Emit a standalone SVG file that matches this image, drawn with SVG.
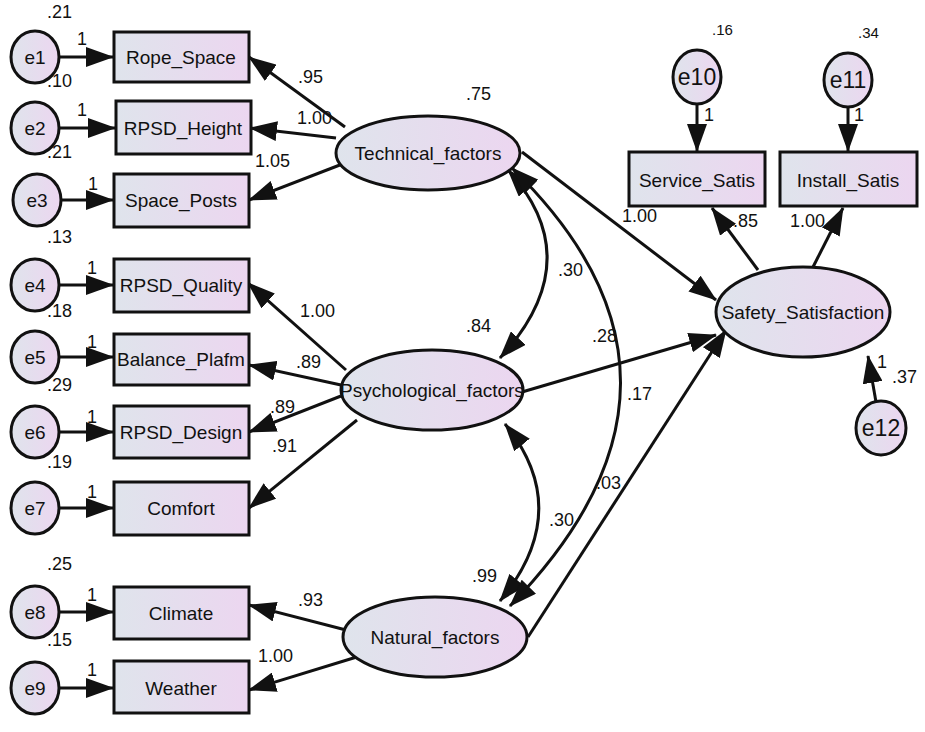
<svg xmlns="http://www.w3.org/2000/svg" width="925" height="732" viewBox="0 0 925 732">
<style>
text{font-family:"Liberation Sans",Arial,sans-serif;fill:#111}
.n{font-size:19px;text-anchor:middle;dominant-baseline:central}
.l{font-size:18px}
.b{fill:url(#g);stroke:#111;stroke-width:3}
.c{stroke:#111;stroke-width:3;fill:none}
</style>
<defs>
<linearGradient id="g" x1="0" x2="1" y1="0" y2="0"><stop offset="0" stop-color="#dfe4ec"/><stop offset="1" stop-color="#ecd6f0"/></linearGradient>
<marker id="a" viewBox="0 0 28 20" refX="27" refY="10" markerWidth="28" markerHeight="20" markerUnits="userSpaceOnUse" orient="auto-start-reverse"><path d="M0,0L28,10L0,20z" fill="#111"/></marker>
</defs>
<rect width="925" height="732" fill="#fff"/>
<g id="connectors" class="c">
<path d="M59,57H113" marker-end="url(#a)"/>
<path d="M59,128H115" marker-end="url(#a)"/>
<path d="M61,200H113" marker-end="url(#a)"/>
<path d="M59,285H113" marker-end="url(#a)"/>
<path d="M59,357H113" marker-end="url(#a)"/>
<path d="M59,432H113" marker-end="url(#a)"/>
<path d="M59,508H113" marker-end="url(#a)"/>
<path d="M59,612H113" marker-end="url(#a)"/>
<path d="M59,688H113" marker-end="url(#a)"/>
<path d="M345,127L249,57" marker-end="url(#a)"/>
<path d="M336,138L250,128" marker-end="url(#a)"/>
<path d="M345,163L249,200" marker-end="url(#a)"/>
<path d="M346,370L248,283" marker-end="url(#a)"/>
<path d="M341,385L249,365" marker-end="url(#a)"/>
<path d="M341,396L249,432" marker-end="url(#a)"/>
<path d="M357,420L249,508" marker-end="url(#a)"/>
<path d="M346,630L249,605" marker-end="url(#a)"/>
<path d="M360,656L249,690" marker-end="url(#a)"/>
<path d="M522,152L716,300" marker-end="url(#a)"/>
<path d="M522,392L716,335" marker-end="url(#a)"/>
<path d="M528,637L726,330" marker-end="url(#a)"/>
<path d="M758,270L712,208" marker-end="url(#a)"/>
<path d="M813,267L843,208" marker-end="url(#a)"/>
<path d="M876,402L868,356" marker-end="url(#a)"/>
<path d="M697,104V151" marker-end="url(#a)"/>
<path d="M848,107V151" marker-end="url(#a)"/>
<path d="M508,170Q590,260 500,358" marker-start="url(#a)" marker-end="url(#a)"/>
<path d="M505,424Q575,510 500,601" marker-start="url(#a)" marker-end="url(#a)"/>
<path d="M512,168Q730,380 510,606" marker-start="url(#a)" marker-end="url(#a)"/>
</g>
<g id="e1"><ellipse class="b" cx="35" cy="57" rx="24" ry="26"/><text class="n" x="35" y="57">e1</text></g>
<g id="e2"><ellipse class="b" cx="35" cy="128" rx="24" ry="26"/><text class="n" x="35" y="128">e2</text></g>
<g id="e3"><ellipse class="b" cx="37" cy="200" rx="24" ry="26"/><text class="n" x="37" y="200">e3</text></g>
<g id="e4"><ellipse class="b" cx="35" cy="285" rx="24" ry="26"/><text class="n" x="35" y="285">e4</text></g>
<g id="e5"><ellipse class="b" cx="35" cy="357" rx="24" ry="26"/><text class="n" x="35" y="357">e5</text></g>
<g id="e6"><ellipse class="b" cx="35" cy="432" rx="24" ry="26"/><text class="n" x="35" y="432">e6</text></g>
<g id="e7"><ellipse class="b" cx="35" cy="508" rx="24" ry="26"/><text class="n" x="35" y="508">e7</text></g>
<g id="e8"><ellipse class="b" cx="35" cy="612" rx="24" ry="26"/><text class="n" x="35" y="612">e8</text></g>
<g id="e9"><ellipse class="b" cx="35" cy="688" rx="24" ry="26"/><text class="n" x="35" y="688">e9</text></g>
<g id="e10"><ellipse class="b" cx="697" cy="77" rx="24" ry="27"/><text class="n" x="697" y="77" style="font-size:23px">e10</text></g>
<g id="e11"><ellipse class="b" cx="848" cy="80" rx="24" ry="27"/><text class="n" x="848" y="80" style="font-size:23px">e11</text></g>
<g id="e12"><ellipse class="b" cx="881" cy="428" rx="25" ry="27"/><text class="n" x="881" y="428" style="font-size:23px">e12</text></g>
<g id="Rope_Space"><rect class="b" x="114" y="32" width="135" height="50"/><text class="n" x="181" y="57">Rope_Space</text></g>
<g id="RPSD_Height"><rect class="b" x="116" y="101" width="135" height="53"/><text class="n" x="183" y="128">RPSD_Height</text></g>
<g id="Space_Posts"><rect class="b" x="114" y="174" width="135" height="53"/><text class="n" x="181" y="200">Space_Posts</text></g>
<g id="RPSD_Quality"><rect class="b" x="114" y="259" width="135" height="53"/><text class="n" x="181" y="285">RPSD_Quality</text></g>
<g id="Balance_Plafm"><rect class="b" x="114" y="334" width="135" height="51"/><text class="n" x="181" y="359">Balance_Plafm</text></g>
<g id="RPSD_Design"><rect class="b" x="114" y="406" width="135" height="52"/><text class="n" x="181" y="432">RPSD_Design</text></g>
<g id="Comfort"><rect class="b" x="114" y="482" width="135" height="53"/><text class="n" x="181" y="508">Comfort</text></g>
<g id="Climate"><rect class="b" x="114" y="587" width="135" height="52"/><text class="n" x="181" y="613">Climate</text></g>
<g id="Weather"><rect class="b" x="114" y="661" width="135" height="52"/><text class="n" x="181" y="688">Weather</text></g>
<g id="Service_Satis"><rect class="b" x="629" y="152" width="136" height="54"/><text class="n" x="697" y="180">Service_Satis</text></g>
<g id="Install_Satis"><rect class="b" x="780" y="152" width="137" height="54"/><text class="n" x="848" y="180">Install_Satis</text></g>
<g id="Technical_factors"><ellipse class="b" cx="428" cy="153" rx="92" ry="37"/><text class="n" x="428" y="153">Technical_factors</text></g>
<g id="Psychological_factors"><ellipse class="b" cx="432" cy="390" rx="91" ry="40"/><text class="n" x="432" y="390">Psychological_factors</text></g>
<g id="Natural_factors"><ellipse class="b" cx="435" cy="637" rx="92" ry="40"/><text class="n" x="435" y="637">Natural_factors</text></g>
<g id="Safety_Satisfaction"><ellipse class="b" cx="803" cy="312" rx="87" ry="45"/><text class="n" x="803" y="312">Safety_Satisfaction</text></g>
<g id="labels" class="l">
<text x="47" y="18">.21</text><text x="77" y="45">1</text>
<text x="47" y="87">.10</text><text x="77" y="116">1</text>
<text x="47" y="158">.21</text><text x="88" y="190">1</text>
<text x="47" y="243">.13</text><text x="87" y="274">1</text>
<text x="47" y="317">.18</text><text x="87" y="348">1</text>
<text x="47" y="391">.29</text><text x="87" y="423">1</text>
<text x="47" y="468">.19</text><text x="87" y="498">1</text>
<text x="47" y="570">.25</text><text x="87" y="601">1</text>
<text x="47" y="646">.15</text><text x="87" y="676">1</text>
<text x="712" y="35" style="font-size:15px">.16</text><text x="858" y="38" style="font-size:15px">.34</text>
<text x="704" y="121">1</text><text x="854" y="121">1</text>
<text x="877" y="368">1</text><text x="892" y="383">.37</text>
<text x="298" y="83">.95</text>
<text x="297" y="124">1.00</text>
<text x="255" y="167">1.05</text>
<text x="466" y="100">.75</text>
<text x="300" y="317">1.00</text>
<text x="296" y="368">.89</text>
<text x="270" y="413">.89</text>
<text x="272" y="452">.91</text>
<text x="466" y="332">.84</text>
<text x="558" y="276">.30</text>
<text x="592" y="342">.28</text>
<text x="627" y="400">.17</text>
<text x="596" y="489">.03</text>
<text x="549" y="526">.30</text>
<text x="472" y="582">.99</text>
<text x="298" y="606">.93</text>
<text x="258" y="662">1.00</text>
<text x="622" y="222">1.00</text>
<text x="733" y="227">.85</text>
<text x="790" y="227">1.00</text>
</g>
</svg>
